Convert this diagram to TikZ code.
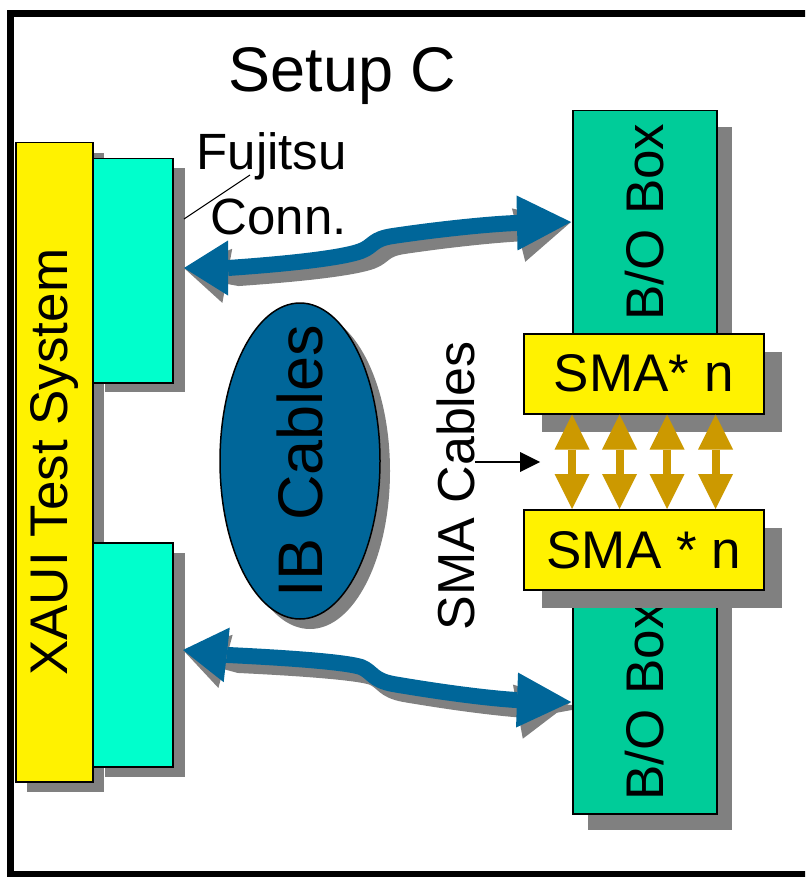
\documentclass[tikz,border=0pt]{standalone}
\usepackage{fontspec}
\setmainfont{Liberation Sans}
\usetikzlibrary{arrows.meta,shapes.geometric,shadows,calc}
\definecolor{cyanbox}{HTML}{00FFCC}
\definecolor{bobox}{HTML}{00CC99}
\definecolor{cblue}{HTML}{006699}
\definecolor{shgray}{HTML}{808080}
\definecolor{cgold}{HTML}{CC9900}
\newcommand\myfs[1]{\fontsize{#1}{#1}\selectfont}
\begin{document}
\begin{tikzpicture}[x=1pt,y=-1pt,
  box/.style={draw=black, line width=1.5pt, inner sep=0pt, anchor=north west},
  shadowed/.style 2 args={drop shadow={shadow xshift=#1pt, shadow yshift=-#2pt, fill=shgray, opacity=1, draw=none}},
  lbl/.style={inner sep=0pt, font=\myfs{#1}},
  cable/.style={line width=16pt, cblue, {Triangle[length=44pt,width=55pt,line width=0pt]}-{Triangle[length=54pt,width=55pt,line width=0pt]}},
  cableshadow/.style={cable, shgray},
  smacable/.style={line width=8pt, cgold, {Triangle[length=35pt,width=35pt,line width=0pt]}-{Triangle[length=35pt,width=35pt,line width=0pt]}}
]
\useasboundingbox (0,0) rectangle (805,877);
\clip (0,0) rectangle (805,877);
\fill[white] (0,0) rectangle (805,877);
% frame
\draw[line width=7pt] (10.5,14) rectangle (840,874);

% title
\node[lbl=63, anchor=base] (title) at (342.5,92) {Setup C};

% XAUI test system
\node[box, fill=yellow, minimum width=77pt, minimum height=639pt, shadowed={11}{10}] (xaui) at (15,142) {};
\node[lbl=53, rotate=90] (xauit) at (xaui.center) {XAUI Test System};

% Fujitsu connectors
\node[box, fill=cyanbox, minimum width=80pt, minimum height=224pt, shadowed={12}{9}] (c1) at (92,158) {};
\node[box, fill=cyanbox, minimum width=80pt, minimum height=224pt, shadowed={12}{10}] (c2) at (92,542) {};

% IB cables ellipse
\node[ellipse, draw=black, line width=1.5pt, fill=cblue, minimum width=160pt, minimum height=316pt, inner sep=0pt, shadowed={10}{10}] (ib) at (300,461) {};
\node[lbl=63, rotate=90] (ibt) at (ib.center) {IB Cables};

% Fujitsu label
\node[lbl=51, anchor=base east] (fuj) at (347,170) {Fujitsu};
\node[lbl=51, anchor=base east] (conn) at (347,235) {Conn.};
\coordinate (lead1) at (184,219);
\coordinate (lead2) at (250,175);
\draw[line width=1pt] (lead1) -- (lead2);

% blue cables (drawn before the B/O boxes, which cover their shadows)
\coordinate (t1) at (184,268);
\coordinate (t2) at (571,222);
\coordinate (b1) at (183,650);
\coordinate (b2) at (571,702);
\begin{scope}[shift={(11,10)}]
\draw[cableshadow] (t1) -- (228,268) .. controls (300,263) and (345,257) .. (361,251) .. controls (374,246) and (372,239) .. (393,236) .. controls (440,229) and (490,224) .. (516,223) -- (t2);
\draw[cableshadow] (b1) -- (228,655) .. controls (290,658) and (345,662) .. (361,667) .. controls (373,672) and (372,680) .. (393,684) .. controls (440,692) and (485,698) .. (516,700) -- (b2);
\end{scope}
\draw[cable] (t1) -- (228,268) .. controls (300,263) and (345,257) .. (361,251) .. controls (374,246) and (372,239) .. (393,236) .. controls (440,229) and (490,224) .. (516,223) -- (t2);
\draw[cable] (b1) -- (228,655) .. controls (290,658) and (345,662) .. (361,667) .. controls (373,672) and (372,680) .. (393,684) .. controls (440,692) and (485,698) .. (516,700) -- (b2);

% B/O boxes
\node[box, fill=bobox, minimum width=144pt, minimum height=223pt, shadowed={15}{16}] (bo1) at (572,110) {};
\node[box, fill=bobox, minimum width=144pt, minimum height=224pt, shadowed={15}{16}] (bo2) at (572,589) {};
\node[lbl=53, rotate=90] (bo1t) at (bo1.center) {B/O Box};
\node[lbl=53, rotate=90] (bo2t) at (bo2.center) {B/O Box};

% SMA boxes
\node[box, fill=yellow, minimum width=240pt, minimum height=80pt, shadowed={18}{18}, font=\myfs{53}] (sma1) at (523,333) {SMA* n};
\node[box, fill=yellow, minimum width=240pt, minimum height=80pt, shadowed={18}{18}, font=\myfs{53}] (sma2) at (523,509) {SMA * n};

% SMA cables
\foreach \dx in {49,96.5,144,192.5}
  \draw[smacable] ($(sma1.south west)+(\dx,0)$) -- ($(sma2.north west)+(\dx,0)$);

\node[lbl=52, rotate=90] (smac) at (456,486) {SMA Cables};
\coordinate (p1) at (475,462);
\coordinate (p2) at (540,462);
\draw[line width=1.5pt, -{Triangle[length=20pt,width=20pt,line width=0pt]}] (p1) -- (p2);
\end{tikzpicture}
\end{document}
